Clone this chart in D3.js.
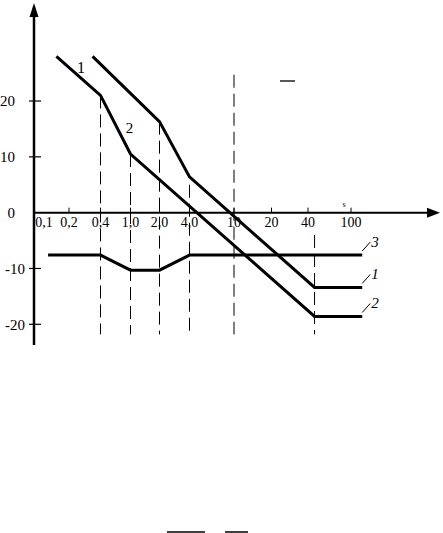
<!DOCTYPE html>
<html>
<head>
<meta charset="utf-8">
<script src="https://cdn.jsdelivr.net/npm/d3@7"></script>
<style>
  body { margin: 0; background: #fff; }
  svg { display: block; }
</style>
</head>
<body>
<div id="chart"></div>
<script>
// stylised frequency axis, tick values and their printed labels
const freqTicks = [0.1, 0.2, 0.4, 1, 2, 4, 10, 20, 40, 100];
const freqLabels = ["0,1", "0,2", "0,4", "1,0", "2,0", "4,0", "10", "20", "40", "100"];
const dbTicks = [-20, -10, 0, 10, 20];

// broken-line curves [freq, dB]
const curve1 = [[0.336, 28], [2, 16.3], [4, 6.4], [46, -13.4], [127, -13.4]];
const curve2 = [[0.141, 28], [0.4, 21], [1, 10.5], [46, -18.6], [127, -18.6]];
const curve3 = [[0.112, -7.6], [0.4, -7.6], [1, -10.3], [2, -10.3], [4, -7.6], [127, -7.6]];

// dashed guides: [freq, top dB]
const guides = [[0.4, 21], [1, 10.5], [2, 16.3], [4, 5], [10, 24.7], [46, -4]];
const guideBottom = -21.8;

const width = 443, height = 533;
const ox = 34; // y axis position

const svg = d3.select("#chart").append("svg")
  .attr("width", width).attr("height", height)
  .style("font-family", "'Liberation Serif', 'Times New Roman', serif");

// piecewise log scale, the axis is drawn unevenly
const x = d3.scaleLog()
  .domain(freqTicks)
  .range([44, 69, 100.5, 130.5, 159.5, 189.5, 234, 271.5, 308, 351]);
const y = d3.scaleLinear().domain([-20, 20]).range([324.3, 101]);

// dashed guides
svg.append("g")
  .selectAll("line")
  .data(guides)
  .join("line")
  .attr("x1", d => x(d[0])).attr("x2", d => x(d[0]))
  .attr("y1", d => y(d[1])).attr("y2", y(guideBottom))
  .attr("stroke", "#000").attr("stroke-width", 1)
  .attr("stroke-dasharray", "13,6");

// y axis
svg.append("line")
  .attr("x1", ox).attr("x2", ox).attr("y1", 12).attr("y2", 345)
  .attr("stroke", "#000").attr("stroke-width", 2.5);
svg.append("path")
  .attr("d", `M${ox},3 L${ox - 4.5},17 L${ox + 4.5},17 Z`)
  .attr("fill", "#000");

svg.append("g")
  .selectAll("line")
  .data(dbTicks.filter(d => d !== 0))
  .join("line")
  .attr("x1", ox - 5).attr("x2", ox + 7)
  .attr("y1", d => y(d)).attr("y2", d => y(d))
  .attr("stroke", "#000").attr("stroke-width", 1.2);

svg.append("g")
  .selectAll("text")
  .data(dbTicks)
  .join("text")
  .attr("x", d => d < 0 ? 25 : 15)
  .attr("y", d => y(d))
  .attr("dy", "0.35em")
  .attr("text-anchor", "end")
  .attr("font-size", 15)
  .text(d => d);

// x axis
svg.append("line")
  .attr("x1", ox).attr("x2", 430).attr("y1", y(0)).attr("y2", y(0))
  .attr("stroke", "#000").attr("stroke-width", 2);
svg.append("path")
  .attr("d", `M440,${y(0)} L427,${y(0) - 5} L427,${y(0) + 5} Z`)
  .attr("fill", "#000");

svg.append("g")
  .selectAll("line")
  .data(freqTicks.slice(1))
  .join("line")
  .attr("x1", d => x(d)).attr("x2", d => x(d))
  .attr("y1", y(0) - 5).attr("y2", y(0))
  .attr("stroke", "#000").attr("stroke-width", 1);

svg.append("g")
  .selectAll("text")
  .data(freqTicks)
  .join("text")
  .attr("x", d => x(d))
  .attr("y", y(0) + 14)
  .attr("text-anchor", "middle")
  .attr("font-size", 14)
  .text((d, i) => freqLabels[i]);

svg.append("text")
  .attr("x", 344).attr("y", 207)
  .attr("text-anchor", "middle")
  .attr("font-size", 8)
  .text("s");

// curves
const line = d3.line().x(d => x(d[0])).y(d => y(d[1]));
svg.append("g")
  .selectAll("path")
  .data([curve1, curve2, curve3])
  .join("path")
  .attr("d", line)
  .attr("fill", "none")
  .attr("stroke", "#000")
  .attr("stroke-width", 3)
  .attr("stroke-linejoin", "miter");

// curve labels near the top
svg.append("text").attr("x", 81).attr("y", 73)
  .attr("text-anchor", "middle").attr("font-size", 16).text("1");
svg.append("text").attr("x", 129.5).attr("y", 133)
  .attr("text-anchor", "middle").attr("font-size", 15).text("2");

// end labels with leaders
const endLabels = [["3", curve3], ["1", curve1], ["2", curve2]];
endLabels.forEach(([name, c]) => {
  const last = c[c.length - 1];
  const px = x(last[0]), py = y(last[1]);
  svg.append("line")
    .attr("x1", px).attr("y1", py - 4)
    .attr("x2", px + 8).attr("y2", py - 13)
    .attr("stroke", "#000").attr("stroke-width", 1);
  svg.append("text")
    .attr("x", px + 9).attr("y", py - 8)
    .attr("font-size", 15).attr("font-style", "italic")
    .text(name);
});

// stray strokes from the source page
svg.append("line").attr("x1", 280).attr("x2", 295).attr("y1", 81).attr("y2", 81)
  .attr("stroke", "#000").attr("stroke-width", 1.3);
svg.append("line").attr("x1", 167).attr("x2", 205).attr("y1", 532).attr("y2", 532)
  .attr("stroke", "#000").attr("stroke-width", 1.5);
svg.append("line").attr("x1", 225).attr("x2", 248).attr("y1", 532).attr("y2", 532)
  .attr("stroke", "#000").attr("stroke-width", 1.5);
</script>
</body>
</html>
